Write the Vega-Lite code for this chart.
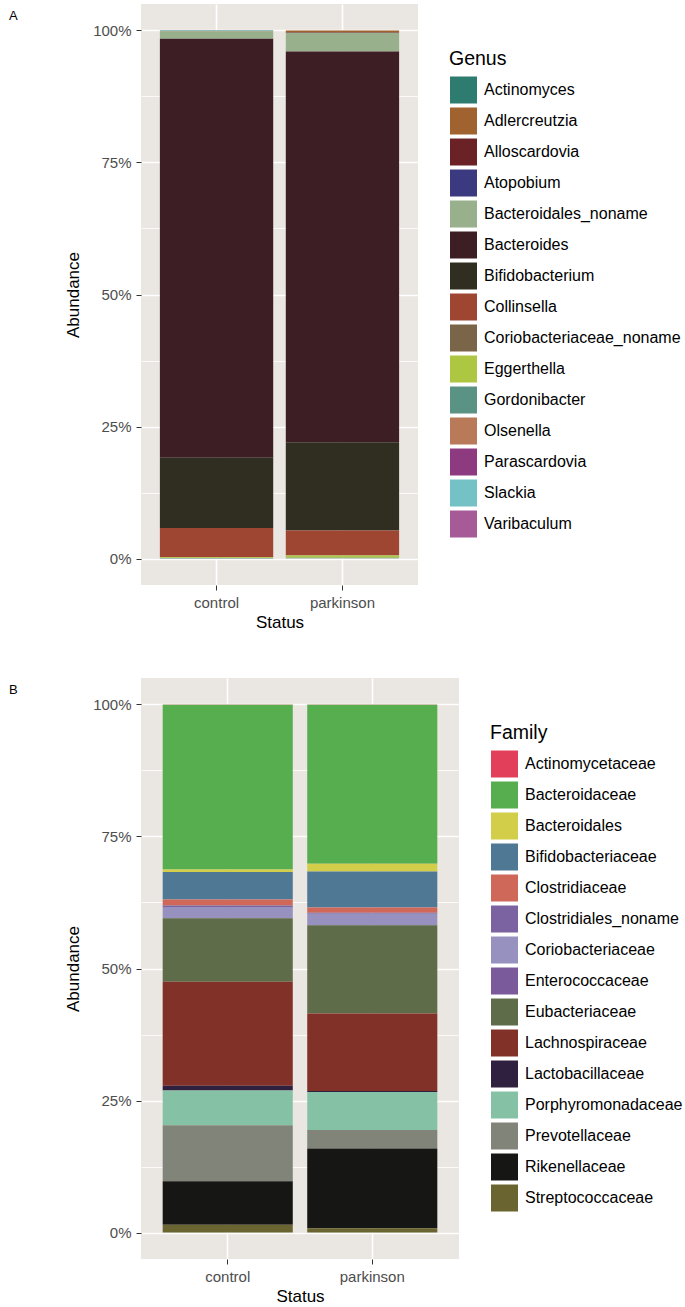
{
  "$schema": "https://vega.github.io/schema/vega-lite/v6.json",
  "padding": {"left": 8, "top": 4, "right": 0, "bottom": 0},
  "spacing": 48,
  "resolve": {"scale": {"color": "independent"}, "legend": {"color": "independent"}},
  "vconcat": [
    {
      "title": {"text": "A", "orient": "left", "anchor": "end", "angle": 0, "fontSize": 13, "fontWeight": "normal", "align": "left", "baseline": "top", "offset": 47, "dy": 6},
      "width": 277,
      "height": 581,
      "data": {"values": [
        {"Status": "control", "Genus": "Actinomyces", "Abundance": 0.0015},
        {"Status": "control", "Genus": "Adlercreutzia", "Abundance": 0.0005},
        {"Status": "control", "Genus": "Bacteroidales_noname", "Abundance": 0.014},
        {"Status": "control", "Genus": "Bacteroides", "Abundance": 0.7933},
        {"Status": "control", "Genus": "Bifidobacterium", "Abundance": 0.133},
        {"Status": "control", "Genus": "Collinsella", "Abundance": 0.055},
        {"Status": "control", "Genus": "Coriobacteriaceae_noname", "Abundance": 0.0003},
        {"Status": "control", "Genus": "Eggerthella", "Abundance": 0.0015},
        {"Status": "control", "Genus": "Gordonibacter", "Abundance": 0.0005},
        {"Status": "control", "Genus": "Olsenella", "Abundance": 0.0002},
        {"Status": "control", "Genus": "Slackia", "Abundance": 0.0002},
        {"Status": "parkinson", "Genus": "Actinomyces", "Abundance": 0.0003},
        {"Status": "parkinson", "Genus": "Adlercreutzia", "Abundance": 0.004},
        {"Status": "parkinson", "Genus": "Alloscardovia", "Abundance": 0.0002},
        {"Status": "parkinson", "Genus": "Atopobium", "Abundance": 0.0002},
        {"Status": "parkinson", "Genus": "Bacteroidales_noname", "Abundance": 0.035},
        {"Status": "parkinson", "Genus": "Bacteroides", "Abundance": 0.740},
        {"Status": "parkinson", "Genus": "Bifidobacterium", "Abundance": 0.167},
        {"Status": "parkinson", "Genus": "Collinsella", "Abundance": 0.047},
        {"Status": "parkinson", "Genus": "Coriobacteriaceae_noname", "Abundance": 0.0005},
        {"Status": "parkinson", "Genus": "Eggerthella", "Abundance": 0.004},
        {"Status": "parkinson", "Genus": "Gordonibacter", "Abundance": 0.0008},
        {"Status": "parkinson", "Genus": "Olsenella", "Abundance": 0.0003},
        {"Status": "parkinson", "Genus": "Slackia", "Abundance": 0.0005},
        {"Status": "parkinson", "Genus": "Varibaculum", "Abundance": 0.0002}
      ]},
      "mark": {"type": "bar"},
      "encoding": {
        "x": {"field": "Status", "type": "nominal", "scale": {"paddingInner": 0.1, "paddingOuter": 0.15},
              "axis": {"title": "Status", "labelAngle": 0, "bandPosition": 0.5, "grid": true, "gridWidth": 1.6, "titlePadding": 4}},
        "y": {"field": "Abundance", "type": "quantitative", "stack": "zero",
              "scale": {"domain": [-0.05, 1.05], "nice": false, "zero": false},
              "axis": {"title": "Abundance", "titlePadding": 10, "values": [0, 0.125, 0.25, 0.375, 0.5, 0.625, 0.75, 0.875, 1],
                       "labelExpr": "(round(datum.value*8) % 2 == 0) ? format(datum.value, '.0%') : ''",
                       "gridWidth": {"condition": {"test": "round(datum.value*8) % 2 == 1", "value": 0.8}, "value": 1.6},
                       "tickOpacity": {"condition": {"test": "round(datum.value*8) % 2 == 1", "value": 0}, "value": 1}}},
        "color": {"field": "Genus", "type": "nominal",
                  "scale": {"domain": ["Actinomyces", "Adlercreutzia", "Alloscardovia", "Atopobium", "Bacteroidales_noname", "Bacteroides", "Bifidobacterium", "Collinsella", "Coriobacteriaceae_noname", "Eggerthella", "Gordonibacter", "Olsenella", "Parascardovia", "Slackia", "Varibaculum"],
                            "range": ["#2E7B70", "#A0622F", "#6A2227", "#3B3A80", "#98B08C", "#3E1E25", "#302E20", "#9E4632", "#7A6548", "#AEC743", "#5A9283", "#B87A58", "#8E3A80", "#74C2C5", "#A65A98"]},
                  "legend": {"title": "Genus"}},
        "order": {"field": "Genus", "sort": "descending"}
      }
    },
    {
      "title": {"text": "B", "orient": "left", "anchor": "end", "angle": 0, "fontSize": 13, "fontWeight": "normal", "align": "left", "baseline": "top", "offset": 47, "dy": 6},
      "width": 318,
      "height": 581,
      "data": {"values": [
        {"Status": "control", "Family": "Actinomycetaceae", "Abundance": 0.0005},
        {"Status": "control", "Family": "Bacteroidaceae", "Abundance": 0.312},
        {"Status": "control", "Family": "Bacteroidales", "Abundance": 0.005},
        {"Status": "control", "Family": "Bifidobacteriaceae", "Abundance": 0.052},
        {"Status": "control", "Family": "Clostridiaceae", "Abundance": 0.011},
        {"Status": "control", "Family": "Clostridiales_noname", "Abundance": 0.003},
        {"Status": "control", "Family": "Coriobacteriaceae", "Abundance": 0.021},
        {"Status": "control", "Family": "Enterococcaceae", "Abundance": 0.0005},
        {"Status": "control", "Family": "Eubacteriaceae", "Abundance": 0.12},
        {"Status": "control", "Family": "Lachnospiraceae", "Abundance": 0.197},
        {"Status": "control", "Family": "Lactobacillaceae", "Abundance": 0.009},
        {"Status": "control", "Family": "Porphyromonadaceae", "Abundance": 0.066},
        {"Status": "control", "Family": "Prevotellaceae", "Abundance": 0.106},
        {"Status": "control", "Family": "Rikenellaceae", "Abundance": 0.082},
        {"Status": "control", "Family": "Streptococcaceae", "Abundance": 0.015},
        {"Status": "parkinson", "Family": "Actinomycetaceae", "Abundance": 0.0003},
        {"Status": "parkinson", "Family": "Bacteroidaceae", "Abundance": 0.301},
        {"Status": "parkinson", "Family": "Bacteroidales", "Abundance": 0.015},
        {"Status": "parkinson", "Family": "Bifidobacteriaceae", "Abundance": 0.068},
        {"Status": "parkinson", "Family": "Clostridiaceae", "Abundance": 0.010},
        {"Status": "parkinson", "Family": "Clostridiales_noname", "Abundance": 0.002},
        {"Status": "parkinson", "Family": "Coriobacteriaceae", "Abundance": 0.021},
        {"Status": "parkinson", "Family": "Enterococcaceae", "Abundance": 0.0005},
        {"Status": "parkinson", "Family": "Eubacteriaceae", "Abundance": 0.167},
        {"Status": "parkinson", "Family": "Lachnospiraceae", "Abundance": 0.147},
        {"Status": "parkinson", "Family": "Lactobacillaceae", "Abundance": 0.002},
        {"Status": "parkinson", "Family": "Porphyromonadaceae", "Abundance": 0.072},
        {"Status": "parkinson", "Family": "Prevotellaceae", "Abundance": 0.035},
        {"Status": "parkinson", "Family": "Rikenellaceae", "Abundance": 0.151},
        {"Status": "parkinson", "Family": "Streptococcaceae", "Abundance": 0.008}
      ]},
      "mark": {"type": "bar"},
      "encoding": {
        "x": {"field": "Status", "type": "nominal", "scale": {"paddingInner": 0.1, "paddingOuter": 0.15},
              "axis": {"title": "Status", "labelAngle": 0, "bandPosition": 0.5, "grid": true, "gridWidth": 1.6, "titlePadding": 4}},
        "y": {"field": "Abundance", "type": "quantitative", "stack": "zero",
              "scale": {"domain": [-0.05, 1.05], "nice": false, "zero": false},
              "axis": {"title": "Abundance", "titlePadding": 10, "values": [0, 0.125, 0.25, 0.375, 0.5, 0.625, 0.75, 0.875, 1],
                       "labelExpr": "(round(datum.value*8) % 2 == 0) ? format(datum.value, '.0%') : ''",
                       "gridWidth": {"condition": {"test": "round(datum.value*8) % 2 == 1", "value": 0.8}, "value": 1.6},
                       "tickOpacity": {"condition": {"test": "round(datum.value*8) % 2 == 1", "value": 0}, "value": 1}}},
        "color": {"field": "Family", "type": "nominal",
                  "scale": {"domain": ["Actinomycetaceae", "Bacteroidaceae", "Bacteroidales", "Bifidobacteriaceae", "Clostridiaceae", "Clostridiales_noname", "Coriobacteriaceae", "Enterococcaceae", "Eubacteriaceae", "Lachnospiraceae", "Lactobacillaceae", "Porphyromonadaceae", "Prevotellaceae", "Rikenellaceae", "Streptococcaceae"],
                            "range": ["#E2405A", "#57AE4F", "#D3CE4A", "#4F7895", "#D0685A", "#7A63A0", "#9691BE", "#7A5A9A", "#5F6C4A", "#823128", "#30203F", "#85C2A5", "#818579", "#161614", "#6A6530"]},
                  "legend": {"title": "Family"}},
        "order": {"field": "Family", "sort": "descending"}
      }
    }
  ],
  "config": {
    "font": "Liberation Sans",
    "view": {"fill": "#EAE6E1", "stroke": null},
    "bar": {"stroke": null},
    "axis": {"domain": false, "gridColor": "#FFFFFF", "gridOpacity": 1, "tickColor": "#333333", "tickSize": 5, "tickWidth": 1, "labelColor": "#4D4D4D", "labelFontSize": 15, "labelPadding": 5, "titleFontSize": 17, "titleFontWeight": "normal", "titleColor": "#000000"},
    "legend": {"symbolType": "square", "symbolSize": 784, "symbolStrokeColor": "#FFFFFF", "symbolStrokeWidth": 1, "symbolOpacity": 1, "labelFontSize": 16, "labelLimit": 400, "labelColor": "#000000", "labelOffset": 6, "titleFontSize": 19.5, "titleFontWeight": "normal", "titleColor": "#000000", "titlePadding": 6, "rowPadding": -2, "offset": 31, "layout": {"right": {"anchor": "middle"}}}
  }
}
